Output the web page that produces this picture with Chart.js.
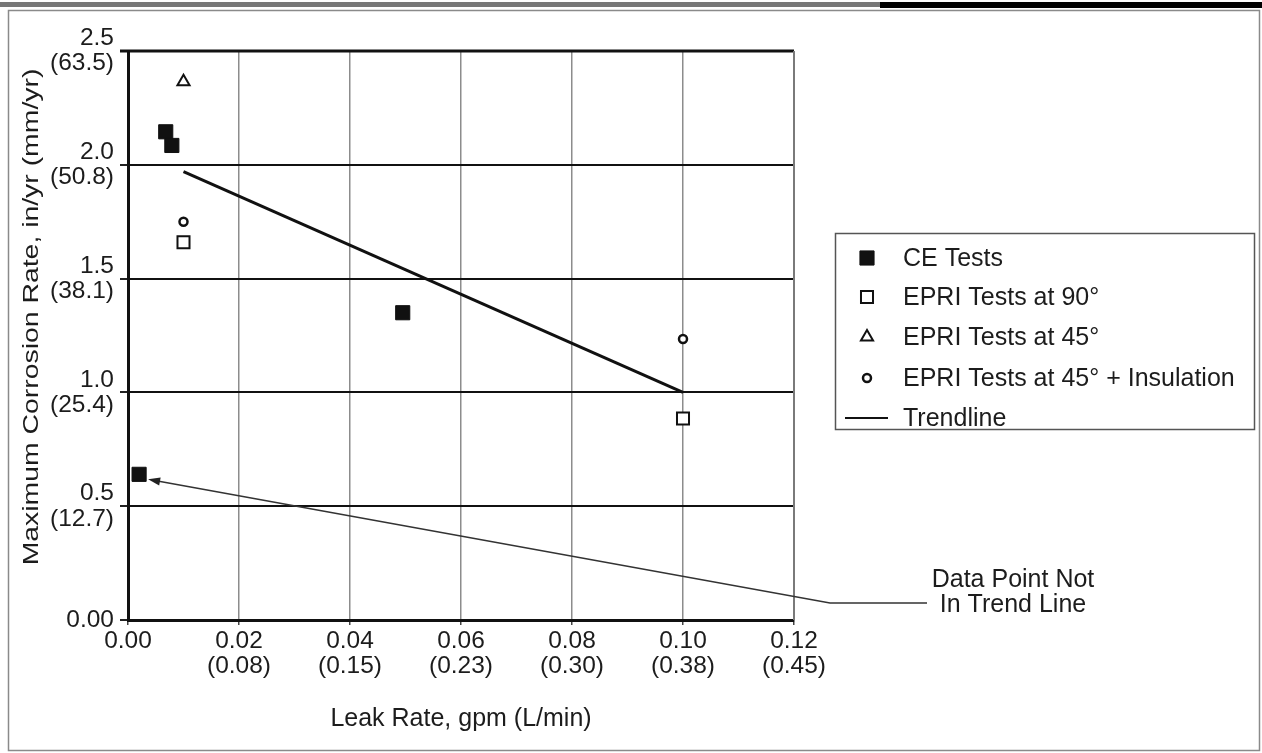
<!DOCTYPE html>
<html>
<head>
<meta charset="utf-8">
<title>Maximum Corrosion Rate vs Leak Rate</title>
<script src="https://cdn.jsdelivr.net/npm/chart.js@4.4.1/dist/chart.umd.min.js"></script>
<style>
  html, body { margin: 0; padding: 0; background: #fff; overflow: hidden; }
  #wrap { width: 1262px; height: 753px; position: relative; }
</style>
</head>
<body>
<div id="wrap"><canvas id="corrosionChart"></canvas></div>
<script>
'use strict'

// data (leak rate gpm, corrosion rate in/yr)
const ceLeak = [0.0068, 0.0079, 0.0495, 0.002];
const ceRate = [2.145, 2.085, 1.35, 0.64];
const epri90Leak = [0.01, 0.10];
const epri90Rate = [1.66, 0.885];
const epri45Leak = [0.01];
const epri45Rate = [2.365];
const epriInsLeak = [0.01, 0.10];
const epriInsRate = [1.75, 1.235];
const trendLeak = [0.01, 0.10];
const trendRate = [1.97, 1.0];

const seriesLabels = ['CE Tests', 'EPRI Tests at 90°', 'EPRI Tests at 45°', 'EPRI Tests at 45° + Insulation', 'Trendline'];

const xTickLabels = [['0.00'], ['0.02', '(0.08)'], ['0.04', '(0.15)'], ['0.06', '(0.23)'], ['0.08', '(0.30)'], ['0.10', '(0.38)'], ['0.12', '(0.45)']];
const yTickLabels = [['0.00'], ['0.5', '(12.7)'], ['1.0', '(25.4)'], ['1.5', '(38.1)'], ['2.0', '(50.8)'], ['2.5', '(63.5)']];

const xTitle = 'Leak Rate, gpm (L/min)';
const yTitle = 'Maximum Corrosion Rate, in/yr (mm/yr)';
const noteLines = ['Data Point Not', 'In Trend Line'];

const FONT = "'Liberation Sans', Arial, Helvetica, sans-serif";
const INK = '#1c1c1c';

function toPoints(xs, ys) {
    return xs.map((x, i) => ({x: x, y: ys[i]}));
}

function drawMarker(ctx, ds, x, y) {
    const r = ds.pointRadius;
    ctx.save();
    ctx.lineWidth = ds.borderWidth;
    ctx.strokeStyle = ds.borderColor;
    ctx.fillStyle = ds.backgroundColor;
    ctx.beginPath();
    if (ds.pointStyle === 'rect') {
        const s = Math.SQRT1_2 * r;
        ctx.rect(x - s, y - s, 2 * s, 2 * s);
    } else if (ds.pointStyle === 'triangle') {
        ctx.moveTo(x, y - r);
        ctx.lineTo(x + r * Math.sin(Math.PI / 3), y + r * 0.5);
        ctx.lineTo(x - r * Math.sin(Math.PI / 3), y + r * 0.5);
        ctx.closePath();
    } else {
        ctx.arc(x, y, r, 0, Math.PI * 2);
    }
    ctx.fill();
    ctx.stroke();
    ctx.restore();
}

const decorPlugin = {
    id: 'decor',
    beforeDatasetsDraw(chart) {
        const {ctx, chartArea} = chart;
        ctx.save();
        // top edge of the plot
        ctx.strokeStyle = '#111';
        ctx.lineWidth = 3;
        ctx.beginPath();
        ctx.moveTo(chartArea.left - 8, chartArea.top);
        ctx.lineTo(chartArea.right, chartArea.top);
        ctx.stroke();
        // right edge, lighter
        ctx.strokeStyle = '#7a7a7a';
        ctx.lineWidth = 2;
        ctx.beginPath();
        ctx.moveTo(chartArea.right, chartArea.top);
        ctx.lineTo(chartArea.right, chartArea.bottom);
        ctx.stroke();
        ctx.restore();
    },
    afterDraw(chart) {
        const {ctx} = chart;
        const xs = chart.scales.x;
        const ys = chart.scales.y;
        ctx.save();

        // y title: the scan stretches it along its length
        ctx.save();
        ctx.translate(38, 317);
        ctx.rotate(-Math.PI / 2);
        ctx.scale(1.29, 1);
        ctx.font = '22px ' + FONT;
        ctx.fillStyle = INK;
        ctx.textAlign = 'center';
        ctx.textBaseline = 'alphabetic';
        ctx.fillText(yTitle, 0, 0);
        ctx.restore();

        // legend box
        ctx.strokeStyle = '#555';
        ctx.lineWidth = 1.5;
        ctx.strokeRect(835.5, 233.5, 419, 196);
        const rowY = [258, 297, 337, 378, 418];
        ctx.font = '25px ' + FONT;
        ctx.fillStyle = INK;
        ctx.textBaseline = 'middle';
        ctx.textAlign = 'left';
        chart.data.datasets.forEach((ds, i) => {
            const y = rowY[i];
            if (ds.showLine) {
                ctx.strokeStyle = '#111';
                ctx.lineWidth = 2;
                ctx.beginPath();
                ctx.moveTo(845, y);
                ctx.lineTo(888, y);
                ctx.stroke();
            } else {
                drawMarker(ctx, ds, 867, y);
            }
            ctx.fillStyle = INK;
            ctx.fillText(ds.label, 903, y + 1);
        });

        // annotation pointing at the outlying CE point
        const px = xs.getPixelForValue(ceLeak[3]);
        const py = ys.getPixelForValue(ceRate[3]);
        const tipX = px + 9, tipY = py + 5;
        const kneeX = 830, kneeY = 603;
        ctx.strokeStyle = '#333';
        ctx.lineWidth = 1.5;
        ctx.beginPath();
        ctx.moveTo(927, kneeY);
        ctx.lineTo(kneeX, kneeY);
        ctx.lineTo(tipX + 8, tipY + 1.5);
        ctx.stroke();
        const ang = Math.atan2(kneeY - tipY, kneeX - tipX);
        ctx.fillStyle = '#222';
        ctx.beginPath();
        ctx.moveTo(tipX, tipY);
        ctx.lineTo(tipX + 12 * Math.cos(ang) - 4 * Math.sin(ang), tipY + 12 * Math.sin(ang) + 4 * Math.cos(ang));
        ctx.lineTo(tipX + 12 * Math.cos(ang) + 4 * Math.sin(ang), tipY + 12 * Math.sin(ang) - 4 * Math.cos(ang));
        ctx.closePath();
        ctx.fill();

        ctx.fillStyle = INK;
        ctx.textAlign = 'center';
        ctx.textBaseline = 'alphabetic';
        ctx.fillText(noteLines[0], 1013, 587);
        ctx.fillText(noteLines[1], 1013, 612);

        // page frame of the scanned figure
        ctx.strokeStyle = '#8a8a8a';
        ctx.lineWidth = 1.5;
        ctx.strokeRect(8.5, 10.5, 1251, 740);
        ctx.fillStyle = '#777';
        ctx.fillRect(0, 2, 1262, 5);
        ctx.fillStyle = '#000';
        ctx.fillRect(880, 2, 382, 6);
        ctx.restore();
    }
};

const datasets = [
    {
        label: seriesLabels[0],
        data: toPoints(ceLeak, ceRate),
        pointStyle: 'rect',
        pointRadius: 10,
        backgroundColor: '#111',
        borderColor: '#111',
        borderWidth: 1
    },
    {
        label: seriesLabels[1],
        data: toPoints(epri90Leak, epri90Rate),
        pointStyle: 'rect',
        pointRadius: 8.5,
        backgroundColor: '#fff',
        borderColor: '#111',
        borderWidth: 2
    },
    {
        label: seriesLabels[2],
        data: toPoints(epri45Leak, epri45Rate),
        pointStyle: 'triangle',
        pointRadius: 7,
        backgroundColor: '#fff',
        borderColor: '#111',
        borderWidth: 2
    },
    {
        label: seriesLabels[3],
        data: toPoints(epriInsLeak, epriInsRate),
        pointStyle: 'circle',
        pointRadius: 4,
        backgroundColor: '#fff',
        borderColor: '#111',
        borderWidth: 2.5
    },
    {
        label: seriesLabels[4],
        data: toPoints(trendLeak, trendRate),
        showLine: true,
        pointRadius: 0,
        borderColor: '#111',
        borderWidth: 3,
        backgroundColor: '#111'
    }
];

new Chart(document.getElementById('corrosionChart'), {
    type: 'scatter',
    data: {datasets: datasets},
    options: {
        responsive: true,
        maintainAspectRatio: false,
        animation: false,
        layout: {padding: {left: 8, top: 51, right: 468, bottom: 0}},
        plugins: {
            legend: {display: false},
            tooltip: {enabled: false}
        },
        scales: {
            x: {
                type: 'linear',
                min: 0,
                max: 0.12,
                afterFit: (scale) => { scale.height = 133; },
                border: {color: '#111', width: 3},
                grid: {
                    color: (c) => (c.tick && (c.tick.value === 0 || c.tick.value > 0.119)) ? 'rgba(0,0,0,0)' : '#8c8c8c',
                    lineWidth: 1.5,
                    tickColor: '#444',
                    tickLength: 5
                },
                ticks: {
                    stepSize: 0.02,
                    autoSkip: false,
                    maxRotation: 0,
                    padding: 4,
                    color: INK,
                    font: {family: FONT, size: 24.5, lineHeight: 1.0},
                    callback: (v, i) => xTickLabels[i]
                },
                title: {
                    display: true,
                    text: xTitle,
                    color: INK,
                    font: {family: FONT, size: 25},
                    padding: {top: 0, bottom: 19}
                }
            },
            y: {
                type: 'linear',
                min: 0,
                max: 2.5,
                afterFit: (scale) => { scale.width = 120; },
                border: {color: '#111', width: 3},
                grid: {
                    color: (c) => (c.tick && (c.tick.value === 0 || c.tick.value === 2.5)) ? 'rgba(0,0,0,0)' : '#111',
                    lineWidth: 2,
                    tickColor: '#222',
                    tickLength: 8
                },
                ticks: {
                    stepSize: 0.5,
                    padding: 6,
                    color: INK,
                    font: {family: FONT, size: 24.5, lineHeight: 1.03},
                    callback: (v, i) => yTickLabels[i]
                }
            }
        }
    },
    plugins: [decorPlugin]
});
</script>
</body>
</html>
